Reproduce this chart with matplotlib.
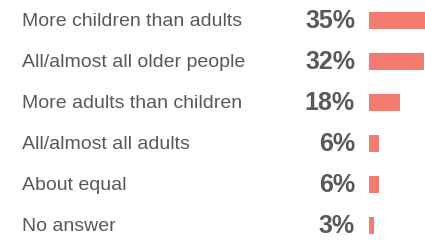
import numpy as np
import matplotlib.pyplot as plt
import matplotlib.transforms as mtransforms

plt.rcParams['font.family'] = ['Liberation Sans', 'DejaVu Sans']

# Данные
categories = ['More children than adults', 'All/almost all older people',
              'More adults than children', 'All/almost all adults',
              'About equal', 'No answer']
values = [35, 32, 18, 6, 6, 3]

bar_color = '#F37B70'
text_color = '#595959'

fig = plt.figure(figsize=(4.25, 2.40), dpi=100)
ax = fig.add_axes([369 / 425, 0, 56 / 425, 1])

y = np.arange(len(categories))
ax.barh(y, values, height=0.43, color=bar_color)
ax.set_xlim(0, 56 / 1.72)
ax.set_ylim((240 - 20.5) / 41, -20.5 / 41)
ax.axis('off')

# подписи слева и проценты
trans = mtransforms.blended_transform_factory(fig.transFigure, ax.transData)
for i, (cat, v) in enumerate(zip(categories, values)):
    ax.text(22 / 425, i + 0.02, cat, transform=trans, ha='left', va='center',
            fontsize=14, color=text_color, clip_on=False)
    ax.text(355 / 425, i + 0.02, f'{v}%', transform=trans, ha='right', va='center',
            fontsize=18, fontweight='bold', color=text_color, clip_on=False)

fig.savefig('out.png', dpi=100)
